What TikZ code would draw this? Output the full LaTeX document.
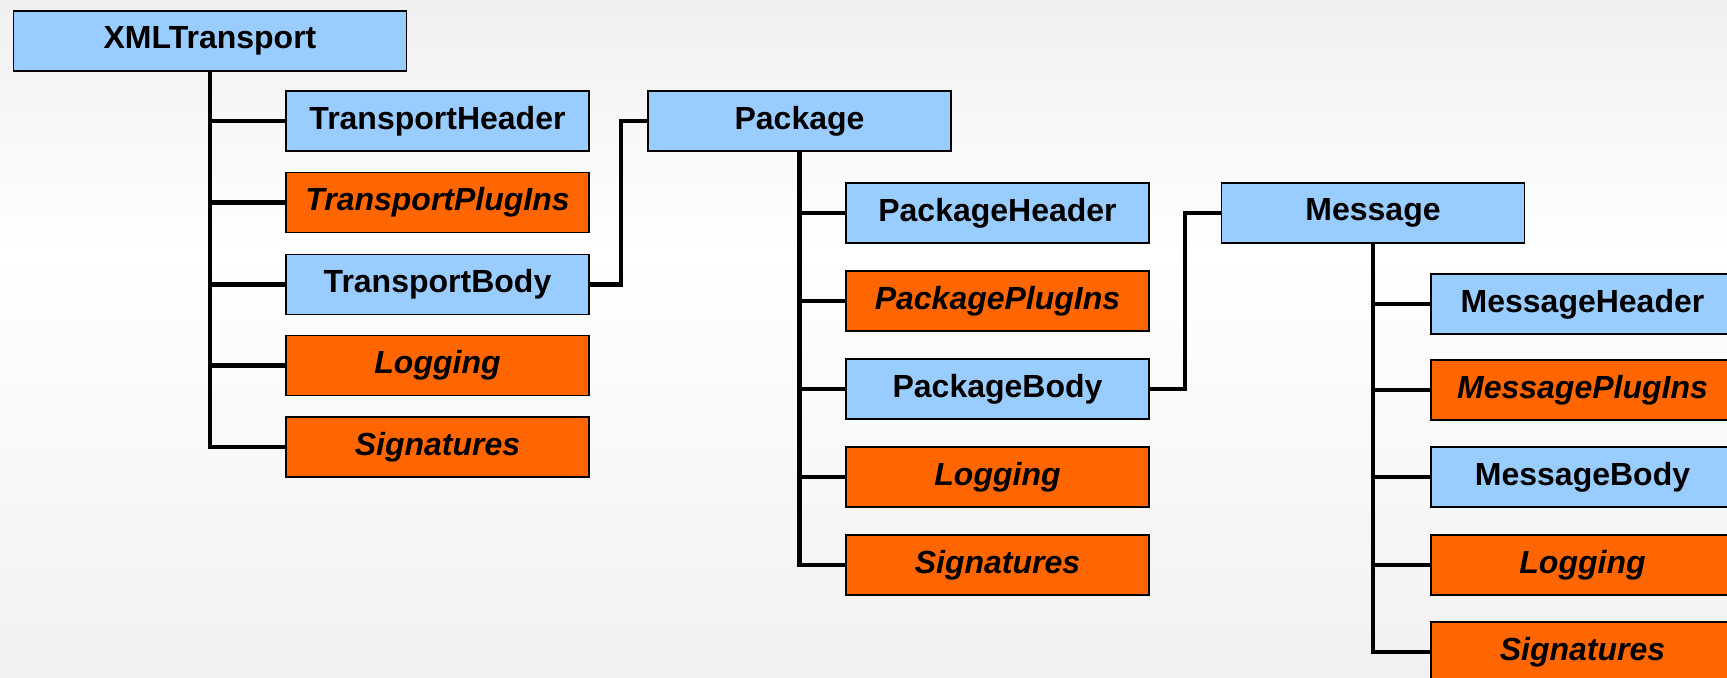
\documentclass[tikz,border=0pt]{standalone}
\usepackage{fontspec}
\setmainfont{Liberation Sans}
\definecolor{boxblue}{HTML}{99CCFF}
\definecolor{boxorange}{HTML}{FF6600}

\tikzset{
    elem/.style={draw=black, line width=0.9pt, minimum width=151.5pt, minimum height=30pt,
        inner sep=0pt, font=\fontsize{16}{19}\selectfont\bfseries},
    plain/.style={elem, fill=boxblue},
    plugin/.style={elem, fill=boxorange, font=\fontsize{16}{19}\selectfont\bfseries\itshape},
    link/.style={line width=2.4pt, line join=miter},
}

\begin{document}
\begin{tikzpicture}[x=0.5pt, y=-0.5pt]
    % background
    \clip (0,0) rectangle (1727,677);
    \fill[top color=gray!12, bottom color=white] (0,0) rectangle (1727,250);
    \fill[top color=white, bottom color=gray!11] (0,250) rectangle (1727,677);

    \node[plain, minimum width=196.5pt] (xmlt) at (210,41) {XMLTransport};
    \node[plain] (theader) at (437.5,121) {TransportHeader};
    \node[plugin] (tplugins) at (437.5,202.5) {TransportPlugIns};
    \node[plain] (tbody) at (437.5,284.5) {TransportBody};
    \node[plugin] (tlogging) at (437.5,365.5) {Logging};
    \node[plugin] (tsign) at (437.5,447) {Signatures};

    \node[plain] (pkg) at (799.5,121) {Package};
    \node[plain] (pheader) at (997.5,213) {PackageHeader};
    \node[plugin] (pplugins) at (997.5,301) {PackagePlugIns};
    \node[plain] (pbody) at (997.5,389) {PackageBody};
    \node[plugin] (plogging) at (997.5,477) {Logging};
    \node[plugin] (psign) at (997.5,565) {Signatures};

    \node[plain] (msg) at (1373,213) {Message};
    \node[plain] (mheader) at (1582.5,304) {MessageHeader};
    \node[plugin] (mplugins) at (1582.5,390) {MessagePlugIns};
    \node[plain] (mbody) at (1582.5,477) {MessageBody};
    \node[plugin] (mlogging) at (1582.5,565) {Logging};
    \node[plugin] (msign) at (1582.5,652) {Signatures};

    % XMLTransport tree
    \draw[link] (xmlt.south) |- (tsign.west);
    \draw[link] (xmlt.south |- theader.west) -- (theader.west);
    \draw[link] (xmlt.south |- tplugins.west) -- (tplugins.west);
    \draw[link] (xmlt.south |- tbody.west) -- (tbody.west);
    \draw[link] (xmlt.south |- tlogging.west) -- (tlogging.west);
    \draw[link] (tbody.east) -- ++(31,0) |- (pkg.west);

    % Package tree
    \draw[link] (pkg.south) |- (psign.west);
    \draw[link] (pkg.south |- pheader.west) -- (pheader.west);
    \draw[link] (pkg.south |- pplugins.west) -- (pplugins.west);
    \draw[link] (pkg.south |- pbody.west) -- (pbody.west);
    \draw[link] (pkg.south |- plogging.west) -- (plogging.west);
    \draw[link] (pbody.east) -- ++(35,0) |- (msg.west);

    % Message tree
    \draw[link] (msg.south) |- (msign.west);
    \draw[link] (msg.south |- mheader.west) -- (mheader.west);
    \draw[link] (msg.south |- mplugins.west) -- (mplugins.west);
    \draw[link] (msg.south |- mbody.west) -- (mbody.west);
    \draw[link] (msg.south |- mlogging.west) -- (mlogging.west);
\end{tikzpicture}
\end{document}
